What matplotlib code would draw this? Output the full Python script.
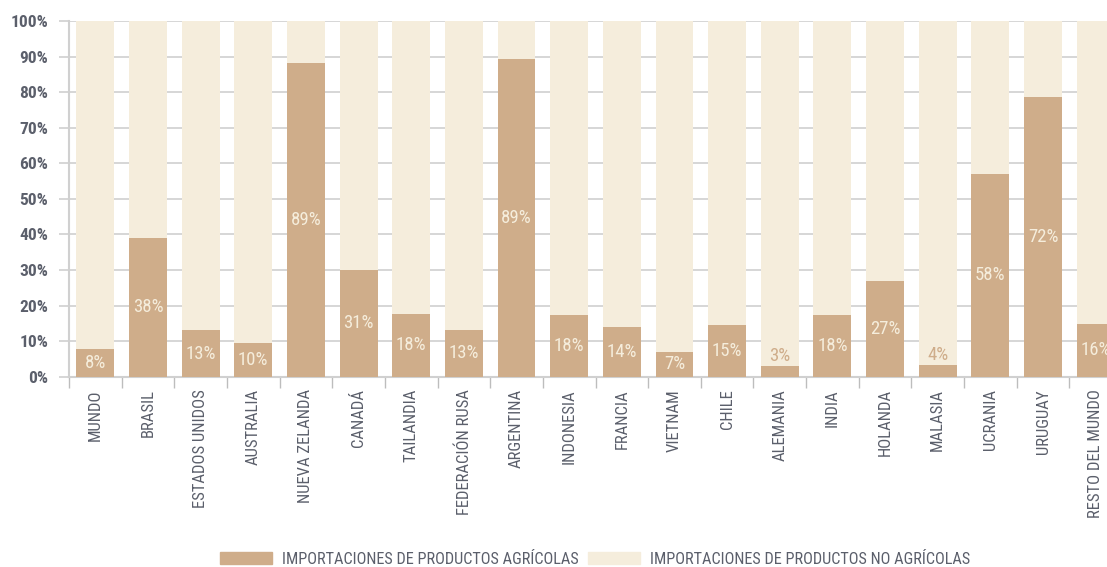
import matplotlib
matplotlib.use("Agg")
import matplotlib.pyplot as plt
from matplotlib.patches import Patch
import numpy as np

plt.rcParams['font.family'] = ['Roboto Condensed', 'DejaVu Sans']
plt.rcParams['font.stretch'] = 'condensed'

categories = ["MUNDO", "BRASIL", "ESTADOS UNIDOS", "AUSTRALIA", "NUEVA ZELANDA", "CANADÁ",
              "TAILANDIA", "FEDERACIÓN RUSA", "ARGENTINA", "INDONESIA", "FRANCIA", "VIETNAM",
              "CHILE", "ALEMANIA", "INDIA", "HOLANDA", "MALASIA", "UCRANIA", "URUGUAY",
              "RESTO DEL MUNDO"]
agricola = [7.8, 39.0, 13.0, 9.5, 88.4, 30.0, 17.6, 13.1, 89.5, 17.4, 14.0, 6.9,
            14.6, 3.0, 17.4, 27.0, 3.3, 57.1, 78.8, 14.8]
etiquetas = ["8%", "38%", "13%", "10%", "89%", "31%", "18%", "13%", "89%", "18%", "14%", "7%",
             "15%", "3%", "18%", "27%", "4%", "58%", "72%", "16%"]
no_agricola = [100 - v for v in agricola]
serie_names = ["IMPORTACIONES DE PRODUCTOS AGRÍCOLAS", "IMPORTACIONES DE PRODUCTOS NO AGRÍCOLAS"]
yticks = [0, 10, 20, 30, 40, 50, 60, 70, 80, 90, 100]

C_AGR = "#cfad8a"
C_NO = "#f5eddc"
C_TXT = "#5b5f6b"
C_GRID = "#cfcfcf"

W, H = 1107, 567
fig = plt.figure(figsize=(W / 100, H / 100), dpi=100)
ax = fig.add_axes([69 / W, 1 - 376.6 / H, (1122 - 69) / W, (376.6 - 21.3) / H])

x = np.arange(len(categories))
ax.bar(x, agricola, width=0.72, color=C_AGR, zorder=3)
ax.bar(x, no_agricola, bottom=agricola, width=0.72, color=C_NO, zorder=3)

for xi, v, lab in zip(x, agricola, etiquetas):
    if v < 5:
        ax.text(xi, v + 2.8, lab, ha="center", va="center", color=C_AGR, fontsize=13.5, zorder=4)
    else:
        ax.text(xi, v / 2, lab, ha="center", va="center", color=C_NO, fontsize=13.5, zorder=4)

ax.set_xlim(-0.5, len(categories) - 0.5)
ax.set_ylim(0, 100)
ax.set_yticks(yticks)
ax.set_yticklabels([f"{t}%" for t in yticks], fontsize=12.5, color=C_TXT, fontweight="bold")
ax.yaxis.grid(True, color=C_GRID, linewidth=1.2, zorder=0)
ax.tick_params(axis="y", length=7, color=C_GRID, width=1.2, pad=8)

ax.set_xticks(x)
ax.set_xticklabels(categories, rotation=90, fontsize=12, color=C_TXT, va="top")
ax.tick_params(axis="x", which="major", length=0, pad=9)
ax.set_xticks(np.arange(-0.5, len(categories), 1), minor=True)
ax.tick_params(axis="x", which="minor", length=8, color="#bdbdbd", width=1)

for s in ["top", "right"]:
    ax.spines[s].set_visible(False)
ax.spines["left"].set_color("#d0d0d0")
ax.spines["left"].set_linewidth(1.5)
ax.spines["bottom"].set_color("#d0d0d0")
ax.spines["bottom"].set_linewidth(1.5)

handles = [Patch(color=C_AGR), Patch(color=C_NO)]
fig.legend(handles, serie_names, loc="center", bbox_to_anchor=(595 / W, 1 - 559 / H),
           ncol=2, frameon=False, fontsize=11.7, handlelength=3.2, handleheight=0.75,
           columnspacing=0.55, handletextpad=0.62, labelcolor=C_TXT)

fig.savefig("out.png", dpi=100)
